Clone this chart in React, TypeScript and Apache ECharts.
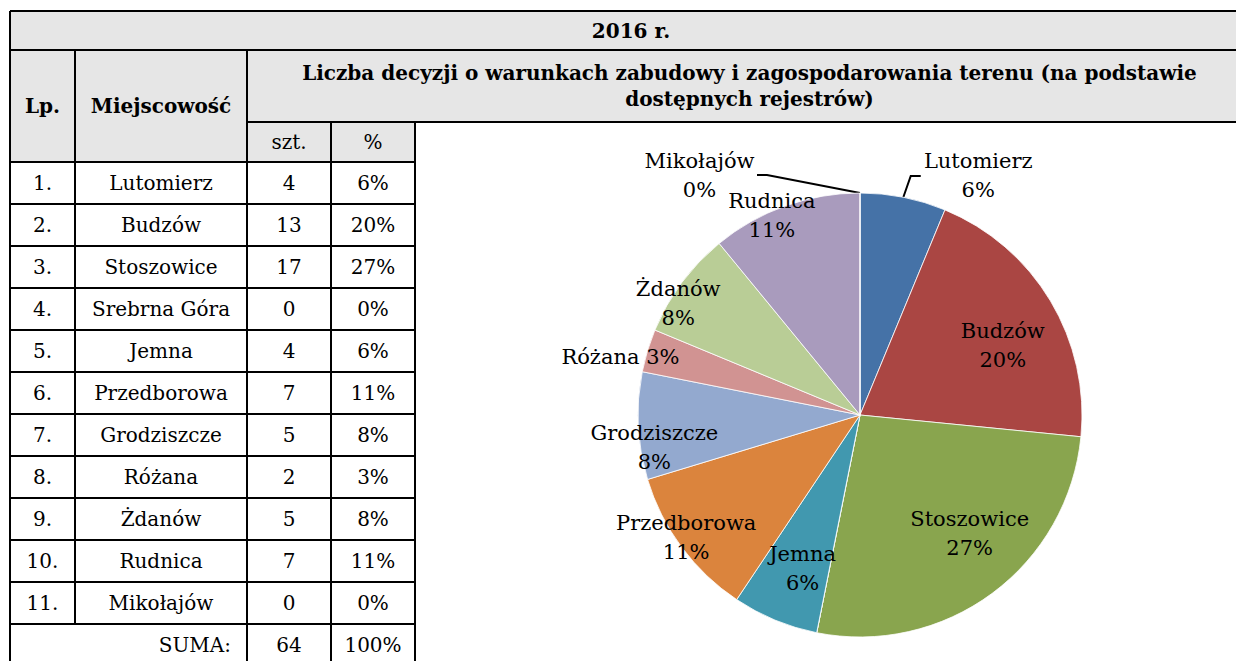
import React, { useEffect, useRef } from "react";
import * as echarts from "echarts";

// ---------- data ----------
const title = "2016 r.";
const headerLines = [
  "Liczba decyzji o warunkach zabudowy i zagospodarowania terenu (na podstawie",
  "dostępnych rejestrów)",
];
const colHeaders = ["Lp.", "Miejscowość"];
const unitHeaders = ["szt.", "%"];
const lpLabels = ["1.", "2.", "3.", "4.", "5.", "6.", "7.", "8.", "9.", "10.", "11."];
const towns = [
  "Lutomierz",
  "Budzów",
  "Stoszowice",
  "Srebrna Góra",
  "Jemna",
  "Przedborowa",
  "Grodziszcze",
  "Różana",
  "Żdanów",
  "Rudnica",
  "Mikołajów",
];
const counts = [4, 13, 17, 0, 4, 7, 5, 2, 5, 7, 0];
const percents = ["6%", "20%", "27%", "0%", "6%", "11%", "8%", "3%", "8%", "11%", "0%"];
const sumLabel = "SUMA:";
const totalCount = "64";
const totalPercent = "100%";

// ---------- style ----------
const sliceColors = [
  "#4572A7",
  "#AA4643",
  "#89A54E",
  "#71588F",
  "#4198AF",
  "#DB843D",
  "#93A9CF",
  "#D19392",
  "#B9CD96",
  "#A99BBD",
  "#92A8CD",
];
// which label ring each slice's label sits on
const labelRing: Record<string, string> = {
  Lutomierz: "leader",
  Mikołajów: "leader",
  Budzów: "mid",
  Stoszowice: "mid",
  Jemna: "mid",
  Przedborowa: "edge",
  Grodziszcze: "edge",
  Żdanów: "edge",
  Rudnica: "edge",
  Różana: "outer",
};
const singleLineLabel: Record<string, boolean> = { Różana: true };
const labelNudge: Record<string, [number, number]> = {
  Budzów: [5, 13],
  Stoszowice: [14, -11],
  Jemna: [4, 5],
  Przedborowa: [-2, -5],
  Grodziszcze: [8, 22],
  Żdanów: [-10, 16],
  Rudnica: [-16, 2],
  Różana: [-3, 14],
  Mikołajów: [-88, 15],
  Lutomierz: [-4, 11],
};

const W = 1236;
const H = 661;
const SERIF = "'DejaVu Serif', serif";
const colX = [10, 75, 247, 331, 415];
const rightX = 1252;
const rowTop = [11, 50, 122, 162];
const rowH = 42;
const headerBg = "#e6e6e6";
const PIE_CX = 860;
const PIE_CY = 415;
const PIE_R = 222;

function buildTable(): any[] {
  const els: any[] = [];
  const line = (x1: number, y1: number, x2: number, y2: number) => ({
    type: "line",
    shape: { x1, y1, x2, y2 },
    style: { stroke: "#000", lineWidth: 2 },
    z: 10,
  });
  const txt = (
    x: number,
    y: number,
    text: string,
    opts: { bold?: boolean; align?: string; size?: number; lh?: number } = {}
  ) => ({
    type: "text",
    x,
    y,
    style: {
      text,
      fill: "#000",
      font: `${opts.bold ? "bold " : ""}${opts.size || 20}px ${SERIF}`,
      textAlign: opts.align || "center",
      textVerticalAlign: "middle",
      lineHeight: opts.lh,
    },
    z: 11,
  });

  // backgrounds
  els.push({
    type: "rect",
    shape: { x: colX[0], y: rowTop[0], width: rightX - colX[0], height: rowTop[2] - rowTop[0] },
    style: { fill: headerBg },
    z: 1,
  });
  els.push({
    type: "rect",
    shape: { x: colX[0], y: rowTop[2], width: colX[4] - colX[0], height: rowTop[3] - rowTop[2] },
    style: { fill: headerBg },
    z: 1,
  });

  const nRows = towns.length + 1;
  const bottom = rowTop[3] + rowH * nRows;

  // horizontal lines
  els.push(line(colX[0], rowTop[0], rightX, rowTop[0]));
  els.push(line(colX[0], rowTop[1], rightX, rowTop[1]));
  els.push(line(colX[2], rowTop[2], rightX, rowTop[2]));
  els.push(line(colX[0], rowTop[3], colX[4], rowTop[3]));
  for (let i = 1; i < nRows; i++) {
    const y = rowTop[3] + rowH * i;
    els.push(line(colX[0], y, colX[4], y));
  }
  // vertical lines
  els.push(line(colX[0], rowTop[0], colX[0], bottom));
  els.push(line(colX[1], rowTop[1], colX[1], rowTop[3] + rowH * towns.length));
  els.push(line(colX[2], rowTop[1], colX[2], bottom));
  els.push(line(colX[3], rowTop[2], colX[3], bottom));
  els.push(line(colX[4], rowTop[2], colX[4], bottom));

  // header texts
  els.push(txt((colX[0] + rightX) / 2, (rowTop[0] + rowTop[1]) / 2, title, { bold: true, size: 20 }));
  els.push(
    txt((colX[2] + rightX) / 2, (rowTop[1] + rowTop[2]) / 2, headerLines.join("\n"), {
      bold: true,
      size: 20,
      lh: 26,
    })
  );
  els.push(txt((colX[0] + colX[1]) / 2, (rowTop[1] + rowTop[3]) / 2, colHeaders[0], { bold: true, size: 20 }));
  els.push(txt((colX[1] + colX[2]) / 2, (rowTop[1] + rowTop[3]) / 2, colHeaders[1], { bold: true, size: 20 }));
  els.push(txt((colX[2] + colX[3]) / 2, (rowTop[2] + rowTop[3]) / 2, unitHeaders[0]));
  els.push(txt((colX[3] + colX[4]) / 2, (rowTop[2] + rowTop[3]) / 2, unitHeaders[1]));

  // body
  towns.forEach((t, i) => {
    const cy = rowTop[3] + rowH * i + rowH / 2;
    els.push(txt((colX[0] + colX[1]) / 2, cy, lpLabels[i]));
    els.push(txt((colX[1] + colX[2]) / 2, cy, t));
    els.push(txt((colX[2] + colX[3]) / 2, cy, String(counts[i])));
    els.push(txt((colX[3] + colX[4]) / 2, cy, percents[i]));
  });
  const sy = rowTop[3] + rowH * towns.length + rowH / 2;
  els.push(txt(colX[2] - 16, sy, sumLabel, { align: "right" }));
  els.push(txt((colX[2] + colX[3]) / 2, sy, totalCount));
  els.push(txt((colX[3] + colX[4]) / 2, sy, totalPercent));
  return els;
}

const labelFont = { fontFamily: SERIF, fontSize: 21, color: "#000", lineHeight: 29 };

function labelText(i: number) {
  return singleLineLabel[towns[i]] ? `${towns[i]} ${percents[i]}` : `${towns[i]}\n${percents[i]}`;
}

function nudgeLayout(params: any) {
  const name = towns[params.dataIndex];
  const n = labelNudge[name];
  if (!n) return {};
  if (labelRing[name] === "leader" && params.labelRect) {
    // move the label and let ECharts redraw its guide line towards it
    const r = params.labelRect;
    const ax =
      params.align === "right" ? r.x + r.width : params.align === "center" ? r.x + r.width / 2 : r.x;
    const ay =
      params.verticalAlign === "top"
        ? r.y
        : params.verticalAlign === "bottom"
        ? r.y + r.height
        : r.y + r.height / 2;
    return { x: ax + n[0], y: ay + n[1] };
  }
  return { dx: n[0], dy: n[1] };
}

function ringSeries(ring: string, radius: [number, number]): any {
  return {
    type: "pie",
    silent: true,
    animation: false,
    center: [PIE_CX, PIE_CY],
    radius,
    startAngle: 90,
    clockwise: true,
    avoidLabelOverlap: false,
    z: 5,
    itemStyle: { color: "rgba(0,0,0,0)", borderWidth: 0 },
    emphasis: { disabled: true },
    labelLine: { show: false },
    labelLayout: nudgeLayout,
    data: towns.map((t, i) => ({
      name: t,
      value: counts[i],
      label: {
        show: labelRing[t] === ring,
        position: "inside",
        formatter: labelText(i),
        ...labelFont,
      },
    })),
  };
}

export default function App() {
  const ref = useRef<HTMLDivElement>(null);
  useEffect(() => {
    if (!ref.current) return;
    const chart = echarts.init(ref.current, null, { renderer: "svg" });
    const mainSeries: any = {
      type: "pie",
      animation: false,
      center: [PIE_CX, PIE_CY],
      radius: [0, PIE_R],
      startAngle: 90,
      clockwise: true,
      avoidLabelOverlap: false,
      minShowLabelAngle: 0,
      z: 3,
      emphasis: { disabled: true },
      itemStyle: { borderColor: "#ffffff", borderWidth: 0.8 },
      labelLine: { show: true, length: 33, length2: 10, lineStyle: { color: "#000", width: 2 } },
      labelLayout: nudgeLayout,
      data: towns.map((t, i) => ({
        name: t,
        value: counts[i],
        itemStyle: { color: sliceColors[i] },
        label: {
          show: labelRing[t] === "leader",
          position: "outside",
          formatter: `{c|${towns[i]}}\n{c|${percents[i]}}`,
          rich: { c: { ...labelFont, align: "center", width: 115 } },
        },
        labelLine: { show: labelRing[t] === "leader" },
      })),
    };
    chart.setOption({
      animation: false,
      backgroundColor: "#ffffff",
      graphic: buildTable(),
      series: [
        mainSeries,
        ringSeries("mid", [PIE_R * 0.42, PIE_R]),
        ringSeries("edge", [PIE_R * 0.9, PIE_R]),
        ringSeries("outer", [PIE_R, PIE_R * 1.2]),
      ],
    });
    return () => chart.dispose();
  }, []);
  return (
    <div
      ref={ref}
      style={{ position: "absolute", left: 0, top: 0, width: W, height: H, background: "#fff" }}
    />
  );
}
